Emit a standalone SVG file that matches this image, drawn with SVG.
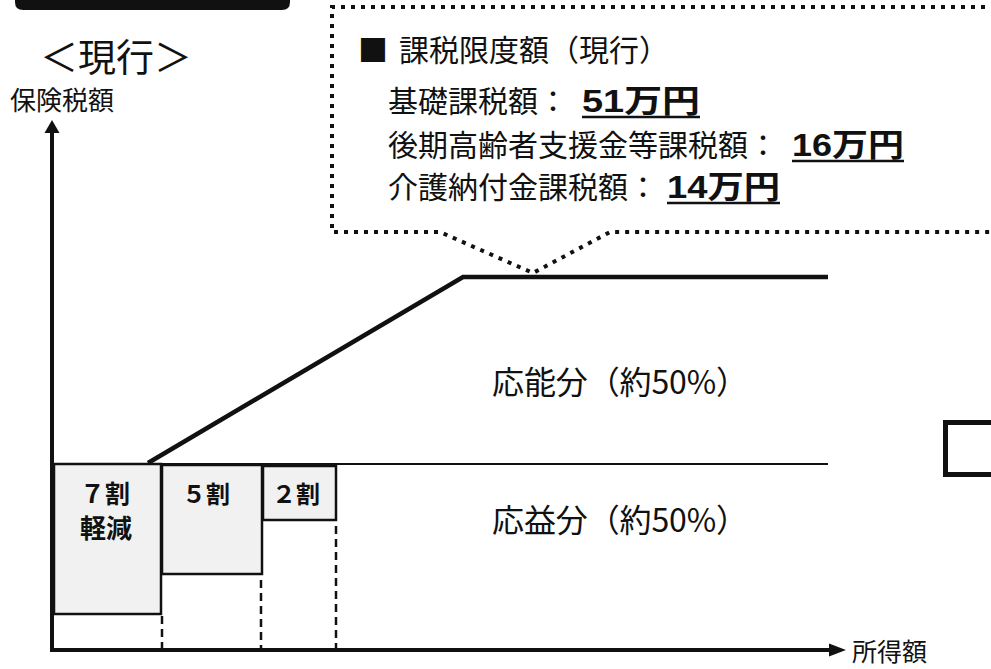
<svg xmlns="http://www.w3.org/2000/svg" width="991" height="669" viewBox="0 0 991 669">
<style>
.jp{font-family:"Noto Sans CJK JP","Noto Sans",sans-serif;fill:#111}
.b{font-weight:bold}
.num{font-family:"Liberation Sans","Noto Sans CJK JP",sans-serif;font-weight:bold;fill:#111}
.box{fill:#f1f1f1;stroke:#111;stroke-width:2.5}
.ax{stroke:#111;stroke-width:4;fill:none}
.thin{stroke:#111;stroke-width:2;fill:none}
.dash{stroke:#111;stroke-width:2.5;stroke-dasharray:8 5;fill:none}
.ul{stroke:#111;stroke-width:2.5}
</style>
<rect width="991" height="669" fill="#fff"/>
<g id="title-bar"><path d="M15,-10 H290 V2 Q290,10 282,10 H23 Q15,10 15,2 Z" fill="#111"/></g>
<g id="heading"><text class="jp" x="40" y="71" font-size="38">＜現行＞</text></g>
<g id="y-label"><text class="jp" x="10" y="110" font-size="26">保険税額</text></g>
<g id="x-label"><text class="jp" x="852" y="661" font-size="25">所得額</text></g>
<g id="callout">
<path d="M995,7 H332 V232 H440 L533,273 L610,232 H995" fill="none" stroke="#111" stroke-width="4" stroke-dasharray="4 6"/>
<text class="jp" x="358" y="61" font-size="30">■</text>
<text class="jp" x="399" y="61" font-size="30">課税限度額（現行）</text>
<text class="jp" x="388" y="112" font-size="30">基礎課税額：</text>
<text class="num" x="582" y="112" font-size="32" textLength="118" lengthAdjust="spacingAndGlyphs">51万円</text>
<line class="ul" x1="582" y1="117" x2="700" y2="117"/>
<text class="jp" x="388" y="156" font-size="30">後期高齢者支援金等課税額：</text>
<text class="num" x="792" y="156" font-size="32" textLength="112" lengthAdjust="spacingAndGlyphs">16万円</text>
<line class="ul" x1="792" y1="161" x2="904" y2="161"/>
<text class="jp" x="388" y="198" font-size="30">介護納付金課税額：</text>
<text class="num" x="667" y="198" font-size="32" textLength="113" lengthAdjust="spacingAndGlyphs">14万円</text>
<line class="ul" x1="667" y1="203" x2="780" y2="203"/>
</g>
<g id="box-7wari">
<rect class="box" x="54" y="464" width="107" height="150"/>
<text class="jp b" x="80" y="503" font-size="25">７割</text>
<text class="jp b" x="80" y="538" font-size="26">軽減</text>
</g>
<g id="box-5wari">
<rect class="box" x="162" y="465" width="100" height="109"/>
<text class="jp b" x="182" y="503" font-size="24">５割</text>
</g>
<g id="box-2wari">
<rect class="box" x="263" y="466" width="73" height="54"/>
<text class="jp b" x="272" y="503" font-size="24">２割</text>
</g>
<g id="label-ono"><text class="jp" x="492" y="394" font-size="32" textLength="256">応能分（約50%）</text></g>
<g id="label-oeki"><text class="jp" x="492" y="532" font-size="32" textLength="256">応益分（約50%）</text></g>
<g id="right-box"><rect x="945.5" y="422.5" width="60" height="52" fill="none" stroke="#111" stroke-width="5"/></g>
<g id="connectors">
<line class="thin" x1="52" y1="464" x2="828" y2="464"/>
<polyline points="148,463 463,277 828,277" fill="none" stroke="#111" stroke-width="4.5" stroke-linejoin="miter"/>
<line class="ax" x1="52" y1="652" x2="52" y2="130"/>
<polygon points="52,120 44.5,133 59.5,133" fill="#111"/>
<line class="ax" x1="50" y1="650" x2="832" y2="650"/>
<polygon points="846,650 829,643.5 829,656.5" fill="#111"/>
<line class="dash" x1="162" y1="616" x2="162" y2="648"/>
<line class="dash" x1="261" y1="580" x2="261" y2="648"/>
<line class="dash" x1="336" y1="526" x2="336" y2="648"/>
</g>
</svg>
